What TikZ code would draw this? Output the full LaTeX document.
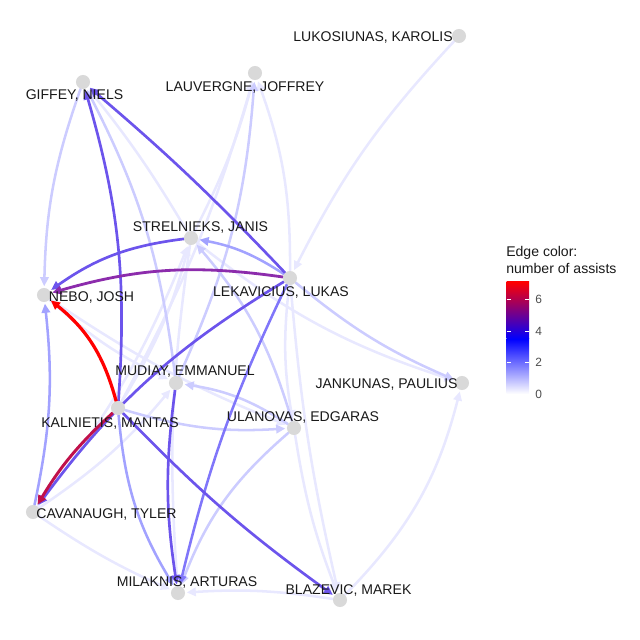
\documentclass[tikz,border=0pt]{standalone}
\usepackage{fontspec}
\setmainfont{Liberation Sans}
\usetikzlibrary{arrows.meta,backgrounds}
\definecolor{asst7}{RGB}{255,0,0}
\definecolor{asst6}{RGB}{192,16,74}
\definecolor{asst5}{RGB}{140,44,172}
\definecolor{asst4}{RGB}{108,84,236}
\definecolor{asst3}{RGB}{128,118,250}
\definecolor{asst2}{RGB}{162,162,255}
\definecolor{asst1}{RGB}{204,204,255}
\definecolor{asst0}{RGB}{232,232,255}
\tikzset{
  player/.style={circle,fill=gray!30,inner sep=0pt,minimum size=10pt},
  pname/.style={font=\fontsize{10}{12}\selectfont,text=black!90,inner sep=0pt},
  tick/.style={font=\fontsize{8.5}{10}\selectfont,text=black!70,inner sep=0pt,anchor=west},
  edge/.style={-{Triangle[length=6.5pt,width=6pt]},shorten >=1pt,line cap=round},
  e0/.style={edge,draw=asst0,line width=1.8pt},
  e1/.style={edge,draw=asst1,line width=1.8pt},
  e2/.style={edge,draw=asst2,line width=1.8pt},
  e3/.style={edge,draw=asst3,line width=1.8pt},
  e4/.style={edge,draw=asst4,line width=1.9pt},
  e5/.style={edge,draw=asst5,line width=2pt},
  e6/.style={edge,draw=asst6,line width=2.1pt},
  e7/.style={edge,draw=asst7,line width=2.3pt}
}
\begin{document}
\begin{tikzpicture}[x=0.025cm,y=0.025cm]
  \useasboundingbox (0,0) rectangle (640,640);

  \node[player] (giffey)     at (83,558)  {};
  \node[player] (lauvergne)  at (255,567) {};
  \node[player] (lukosiunas) at (459,604) {};
  \node[player] (strelnieks) at (191,402) {};
  \node[player] (lekavicius) at (290,362) {};
  \node[player] (nebo)       at (44,345)  {};
  \node[player] (mudiay)     at (176,257) {};
  \node[player] (kalnietis)  at (118,232) {};
  \node[player] (ulanovas)   at (294,212) {};
  \node[player] (jankunas)   at (462,257) {};
  \node[player] (cavanaugh)  at (33,128)  {};
  \node[player] (milaknis)   at (178,47)  {};
  \node[player] (blazevic)   at (340,40)  {};

  \begin{pgfonlayer}{background}
    % faint passes
    \draw[e0] (lukosiunas) to[bend right=8] (lekavicius);
    \draw[e0] (lekavicius) to[bend right=10] (lauvergne);
    \draw[e0] (strelnieks) to[bend right=6] (lauvergne);
    \draw[e0] (kalnietis) to[bend right=6] (lauvergne);
    \draw[e0] (strelnieks) to[bend right=4] (giffey);
    \draw[e0] (blazevic) to[bend right=15] (jankunas);
    \draw[e0] (blazevic) to[bend right=6] (milaknis);
    \draw[e0] (ulanovas) to[bend right=6] (blazevic);
    \draw[e0] (lekavicius) to[bend right=4] (blazevic);
    \draw[e0] (lekavicius) to[bend right=8] (ulanovas);
    \draw[e0] (nebo) to[bend right=6] (ulanovas);
    \draw[e0] (nebo) to[bend right=8] (mudiay);
    \draw[e0] (cavanaugh) to[bend right=5] (milaknis);
    \draw[e0] (cavanaugh) to[bend right=8] (strelnieks);
    \draw[e0] (cavanaugh) to[bend right=8] (mudiay);
    \draw[e0] (strelnieks) to[bend right=6] (milaknis);
    \draw[e0] (strelnieks) to[bend right=10] (jankunas);
    \draw[e0] (kalnietis) to[bend right=8] (strelnieks);
    %\draw[e0] (milaknis) to[bend right=6] (lauvergne);
    \draw[e1] (mudiay) to[bend right=10] (giffey);
    \draw[e1] (mudiay) to[bend right=10] (lauvergne);
    \draw[e1] (ulanovas) to[bend right=12] (mudiay);
    \draw[e1] (giffey) to[bend right=9] (nebo);
    \draw[e1] (ulanovas) to[bend right=14] (milaknis);
    \draw[e1] (kalnietis) to[bend right=10] (ulanovas);
    \draw[e1] (lekavicius) to[bend right=8] (jankunas);
    \draw[e1] (ulanovas) to[bend right=12] (strelnieks);
    % stronger passes
    \draw[e2] (lekavicius) to[bend right=11] (strelnieks);
    \draw[e2] (cavanaugh) to[bend right=9] (nebo);
    \draw[e2] (kalnietis) to[bend right=13] (milaknis);
    \draw[e3] (lekavicius) to[bend right=6] (milaknis);
    \draw[e4] (strelnieks) to[bend right=14] (nebo);
    \draw[e4] (lekavicius) to[bend right=3] (giffey);
    \draw[e4] (kalnietis) to[bend right=10] (giffey);
    \draw[e4] (lekavicius) to[bend right=11] (cavanaugh);
    \draw[e4] (kalnietis) to[bend right=5] (blazevic);
    \draw[e4] (mudiay) to[bend right=8] (milaknis);
    \draw[e5] (lekavicius) to[bend right=12] (nebo);
    \draw[e6] (kalnietis) to[bend right=8] (cavanaugh);
    \draw[e7] (kalnietis) to[bend right=18] (nebo);
  \end{pgfonlayer}

  \node[pname] (giffey-l)     at (74.5,545)  {GIFFEY, NIELS};
  \node[pname] (lauvergne-l)  at (245,553)   {LAUVERGNE, JOFFREY};
  \node[pname] (lukosiunas-l) at (373,603)   {LUKOSIUNAS, KAROLIS};
  \node[pname] (strelnieks-l) at (200.5,413) {STRELNIEKS, JANIS};
  \node[pname] (lekavicius-l) at (281,348)   {LEKAVICIUS, LUKAS};
  \node[pname] (nebo-l)       at (91.5,343)  {NEBO, JOSH};
  \node[pname] (mudiay-l)     at (185,268)   {MUDIAY, EMMANUEL};
  \node[pname] (kalnietis-l)  at (110,217)   {KALNIETIS, MANTAS};
  \node[pname] (ulanovas-l)   at (303,223)   {ULANOVAS, EDGARAS};
  \node[pname] (jankunas-l)   at (386.5,256) {JANKUNAS, PAULIUS};
  \node[pname] (cavanaugh-l)  at (106.5,126) {CAVANAUGH, TYLER};
  \node[pname] (milaknis-l)   at (187,58)    {MILAKNIS, ARTURAS};
  \node[pname] (blazevic-l)   at (348.5,50)  {BLAZEVIC, MAREK};

  \begin{scope}
    \node[pname,anchor=base west] (legtitle) at (506,383) {Edge color:};
    \node[pname,anchor=base west] (legsub)   at (506,366) {number of assists};
    \shade[bottom color=white,top color=blue] (506.7,246) rectangle (529,301.1);
    \shade[bottom color=blue,top color=red]   (506.7,301) rectangle (529,358);
    \foreach \v in {2,4,6} {
      \draw[white,line width=0.7pt] (506.7,246+\v*15.75) -- ++(4.5,0);
      \draw[white,line width=0.7pt] (529,246+\v*15.75) -- ++(-4.5,0);
    }
    \node[tick] (tick0) at (535,246)   {0};
    \node[tick] (tick2) at (535,277.5) {2};
    \node[tick] (tick4) at (535,309)   {4};
    \node[tick] (tick6) at (535,340.5) {6};
  \end{scope}
\end{tikzpicture}
\end{document}
